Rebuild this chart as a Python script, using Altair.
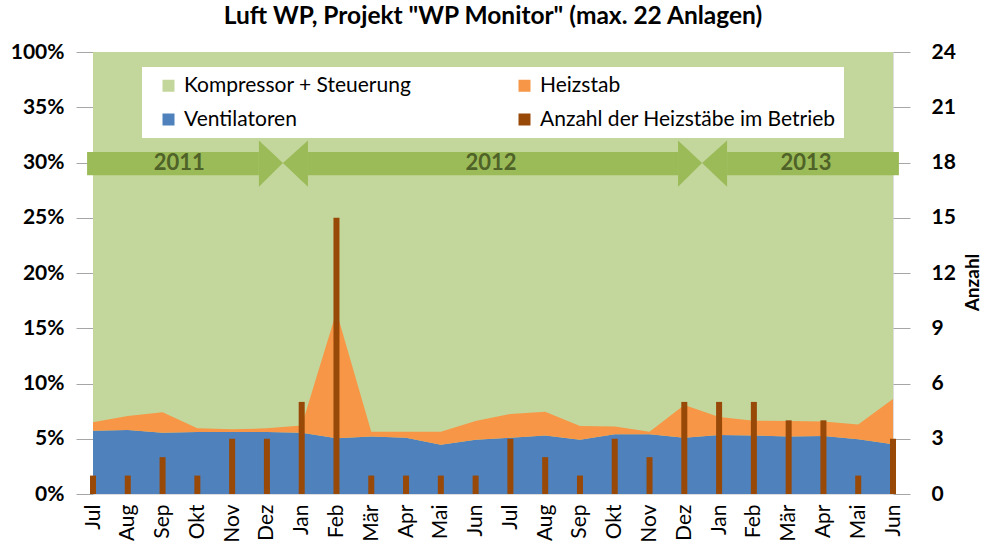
import altair as alt
import pandas as pd

# ---------------- data ----------------
months = ['Jul', 'Aug', 'Sep', 'Okt', 'Nov', 'Dez', 'Jan', 'Feb', 'Mär', 'Apr', 'Mai', 'Jun',
          'Jul', 'Aug', 'Sep', 'Okt', 'Nov', 'Dez', 'Jan', 'Feb', 'Mär', 'Apr', 'Mai', 'Jun']
ventilatoren = [5.73, 5.80, 5.55, 5.60, 5.60, 5.60, 5.55, 5.04, 5.20, 5.10, 4.46, 4.90,
                5.10, 5.30, 4.90, 5.40, 5.40, 5.10, 5.35, 5.30, 5.20, 5.25, 4.95, 4.50]
heizstab = [0.77, 1.26, 1.85, 0.34, 0.25, 0.34, 0.65, 11.46, 0.44, 0.54, 1.18, 1.70,
            2.14, 2.15, 1.25, 0.70, 0.24, 2.95, 1.62, 1.33, 1.40, 1.30, 1.35, 4.10]
anzahl = [1, 1, 2, 1, 3, 3, 5, 15, 1, 1, 1, 1, 3, 2, 1, 3, 2, 5, 5, 5, 4, 4, 1, 3]

left_ticks = [0, 5, 10, 15, 20, 25, 30, 35, 40]   # top tick stands for 100 %
right_ticks = [0, 3, 6, 9, 12, 15, 18, 21, 24]

years = ['2011', '2012', '2013']
year_label_x = [2.48, 11.44, 20.5]
shaft_start = [-0.17, 6.18, 18.23]
shaft_end = [4.77, 16.82, 23.17]
head_base = [4.77, 6.18, 16.82, 18.23]
head_tip = [5.46, 5.46, 17.51, 17.51]
shaft_low, shaft_high = 28.85, 30.95
head_low, head_high = 27.8, 32.0
arrow_mid = 29.95

S_K = 'Kompressor + Steuerung'
S_H = 'Heizstab'
S_V = 'Ventilatoren'
S_A = 'Anzahl der Heizstäbe im Betrieb'

GREEN = '#C3D69B'
BLUE = '#4F81BD'
ORANGE = '#F79646'
BROWN = '#984807'
ARROW = '#9BBB59'
YEARTXT = '#4F6228'
FONT = 'Lato'

# ---------------- tables ----------------
n = len(months)
idx = list(range(n))
area_df = pd.DataFrame({
    'i': idx + idx,
    'v': ventilatoren + heizstab,
    'series': [S_V] * n + [S_H] * n,
    'o': [0] * n + [1] * n,
})
bar_df = pd.DataFrame({'i': idx, 'n': anzahl, 'series': [S_A] * n})
bg_df = pd.DataFrame({'x0': [0], 'x1': [n - 1], 'y0': [left_ticks[0]],
                      'y1': [left_ticks[-1]], 'series': [S_K]})
shaft_df = pd.DataFrame({'x0': shaft_start, 'x1': shaft_end,
                         'y0': [shaft_low] * 3, 'y1': [shaft_high] * 3})
head_rows = []
for k in range(len(head_base)):
    head_rows.append({'x': head_base[k], 'lo': head_low, 'hi': head_high, 'k': k})
    head_rows.append({'x': head_tip[k], 'lo': arrow_mid, 'hi': arrow_mid, 'k': k})
head_df = pd.DataFrame(head_rows)
year_df = pd.DataFrame({'x': year_label_x, 'y': [arrow_mid] * 3, 't': years})

# ---------------- scales / axes ----------------
month_js = '[' + ','.join("'" + m + "'" for m in months) + ']'
xs = alt.Scale(domain=[0, n - 1], nice=False, zero=False, padding=0)
ys = alt.Scale(domain=[left_ticks[0], left_ticks[-1]], nice=False, padding=0)
cs = alt.Scale(domain=[S_K, S_V, S_H, S_A], range=[GREEN, BLUE, ORANGE, BROWN])

xaxis = alt.Axis(values=idx, labelExpr=month_js + '[datum.value]', labelAngle=270,
                 labelFontSize=21, labelFont=FONT, labelColor='black', labelPadding=10,
                 ticks=False, domain=False, grid=False, title=None, labelOverlap=False)
yaxis_left = alt.Axis(values=left_ticks,
                      labelExpr="datum.value == 40 ? '100%' : datum.value + '%'",
                      labelFontSize=21, labelFont=FONT, labelFontWeight='bold',
                      labelColor='black', tickSize=17, tickColor='#A6A6A6',
                      labelPadding=12, domain=False, grid=False, title=None)
yaxis_right = alt.Axis(orient='right', values=right_ticks, labelFontSize=21,
                       labelFont=FONT, labelFontWeight='bold', labelColor='black',
                       tickSize=17, tickColor='#A6A6A6', labelPadding=21,
                       domain=False, grid=False, title='Anzahl', titleFont=FONT,
                       titleFontSize=19, titleFontWeight='bold', titleColor='black',
                       titleAngle=270, titleX=79, titleY=230, titleAlign='center',
                       titleBaseline='middle')
leg = alt.Legend(orient='none', legendX=49, legendY=15, columns=2, symbolType='square',
                 symbolSize=144, labelFontSize=21, labelFont=FONT, labelColor='black',
                 fillColor='white', padding=8, rowPadding=12, columnPadding=94,
                 symbolOffset=8, labelOffset=5, title=None, symbolOpacity=1,
                 symbolStrokeWidth=0, labelLimit=500)

X = lambda f: alt.X(f, scale=xs, axis=xaxis)
Y = lambda f, **kw: alt.Y(f, scale=ys, axis=yaxis_left, **kw)

bg = alt.Chart(bg_df).mark_rect(opacity=1).encode(
    x=X('x0:Q'), x2='x1', y=Y('y0:Q'), y2='y1',
    color=alt.Color('series:N', scale=cs, legend=leg))

area = alt.Chart(area_df).mark_area(opacity=1).encode(
    x=X('i:Q'), y=Y('v:Q', stack='zero'),
    color=alt.Color('series:N', scale=cs, legend=leg),
    order=alt.Order('o:Q'))

shafts = alt.Chart(shaft_df).mark_rect(color=ARROW, opacity=1).encode(
    x=X('x0:Q'), x2='x1', y=Y('y0:Q'), y2='y1')

heads = alt.Chart(head_df).mark_area(color=ARROW, opacity=1).encode(
    x=X('x:Q'), y=Y('lo:Q', stack=None), y2='hi', detail='k:N')

yrs = alt.Chart(year_df).mark_text(fontSize=22, font=FONT, fontWeight='bold',
                                   color=YEARTXT).encode(
    x=X('x:Q'), y=Y('y:Q'), text='t:N')

left = alt.layer(bg, area, shafts, heads, yrs)

bars = alt.Chart(bar_df).mark_bar(size=6, opacity=1).encode(
    x=X('i:Q'),
    y=alt.Y('n:Q', scale=alt.Scale(domain=[right_ticks[0], right_ticks[-1]], nice=False,
                                   padding=0),
            axis=yaxis_right),
    color=alt.Color('series:N', scale=cs, legend=leg))

chart = alt.layer(left, bars).resolve_scale(y='independent').properties(
    width=800, height=442,
    autosize=alt.AutoSizeParams(type='none'),
    padding={'left': 93, 'top': 52, 'right': 97, 'bottom': 65},
    title=alt.TitleParams(text='Luft WP, Projekt "WP Monitor" (max. 22 Anlagen)',
                          fontSize=24.5, font=FONT, fontWeight='bold', color='black',
                          anchor='middle', frame='group', offset=12),
).configure_view(stroke=None).configure(background='white')

chart.save('out.html', embed_options={'renderer': 'svg', 'actions': False})
